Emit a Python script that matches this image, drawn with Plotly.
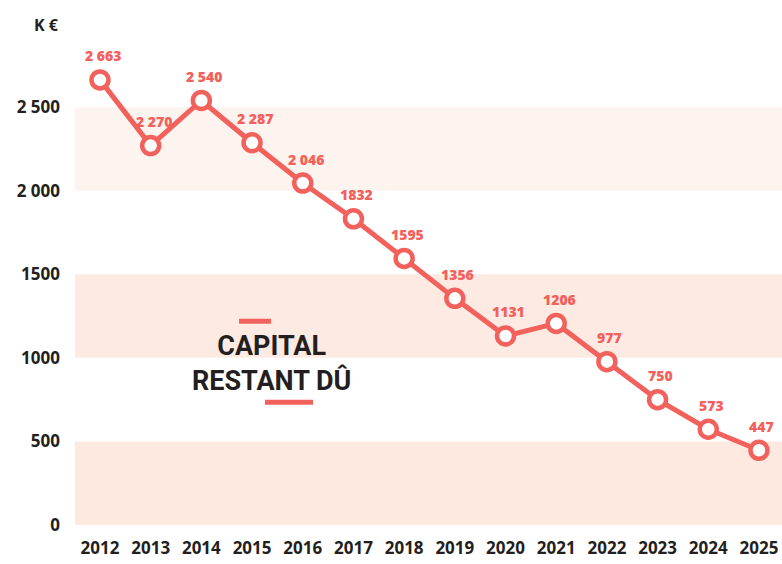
import plotly.graph_objects as go

years = [2012, 2013, 2014, 2015, 2016, 2017, 2018, 2019, 2020, 2021, 2022, 2023, 2024, 2025]
capital = [2663, 2270, 2540, 2287, 2046, 1832, 1595, 1356, 1131, 1206, 977, 750, 573, 447]
value_labels = ["2 663", "2 270", "2 540", "2 287", "2 046", "1832", "1595", "1356",
                "1131", "1206", "977", "750", "573", "447"]
y_ticks = [0, 500, 1000, 1500, 2000, 2500]
y_tick_labels = ["0", "500", "1000", "1500", "2 000", "2 500"]
bands = [(0, 500, "#FDE9E0"), (1000, 1500, "#FDEBE3"), (2000, 2500, "#FEF4EF")]

RED = "#F2615B"
DARK = "#231F20"
NUMFONT = "Open Sans"

PL, PR, PT, PB = 75, 782, 56.5, 525  # plot area in page pixels
PW, PH = PR - PL, PB - PT


def px(x):
    return (x - PL) / PW


def py(y):
    return (PB - y) / PH


fig = go.Figure()
fig.add_trace(go.Scatter(
    x=years, y=capital, mode="lines+markers",
    line=dict(color=RED, width=5),
    marker=dict(size=17, color="white", line=dict(color=RED, width=4.5)),
    hoverinfo="x+y", showlegend=False,
))

for x, y, t in zip(years, capital, value_labels):
    fig.add_annotation(x=x, y=y, text=t, showarrow=False, yshift=24, xshift=3,
                       font=dict(family=NUMFONT, size=14, color=RED, weight=800))

shapes = []
for y0, y1, c in bands:
    shapes.append(dict(type="rect", xref="paper", yref="y", x0=0, x1=1, y0=y0, y1=y1,
                       fillcolor=c, line=dict(width=0), layer="below"))
# legend dashes
shapes.append(dict(type="line", xref="paper", yref="paper", x0=px(239), x1=px(271),
                   y0=py(321), y1=py(321), line=dict(color=RED, width=5)))
shapes.append(dict(type="line", xref="paper", yref="paper", x0=px(265), x1=px(313),
                   y0=py(402), y1=py(402), line=dict(color=RED, width=5)))

fig.add_annotation(xref="paper", yref="paper", x=px(271), y=py(363),
                   xanchor="center", yanchor="middle",
                   text="CAPITAL<br>RESTANT DÛ", showarrow=False, align="center",
                   font=dict(family="Roboto", size=27, color=DARK, weight=700))
fig.add_annotation(xref="paper", yref="paper", x=px(61), y=py(24),
                   xanchor="right", yanchor="middle", text="K €", showarrow=False,
                   font=dict(family=NUMFONT, size=16, color=DARK, weight=700))

fig.update_layout(
    width=782, height=564,
    margin=dict(l=PL, r=782 - PR, t=PT, b=564 - PB),
    paper_bgcolor="white", plot_bgcolor="white",
    shapes=shapes,
    xaxis=dict(range=[2011.507, 2025.454], tickvals=years, ticktext=[str(y) for y in years],
               showgrid=False, zeroline=False, showline=False, ticks="",
               ticklabelstandoff=11,
               tickfont=dict(family=NUMFONT, size=17, color=DARK, weight=700)),
    yaxis=dict(range=[0, 2800], tickvals=y_ticks, ticktext=y_tick_labels,
               showgrid=False, zeroline=False, showline=False, ticks="",
               ticklabelstandoff=14,
               tickfont=dict(family=NUMFONT, size=17, color=DARK, weight=700)),
)

fig.write_html("out.html", config={"displayModeBar": False},
               post_script="document.body.style.margin='0';document.body.style.overflow='hidden';")
